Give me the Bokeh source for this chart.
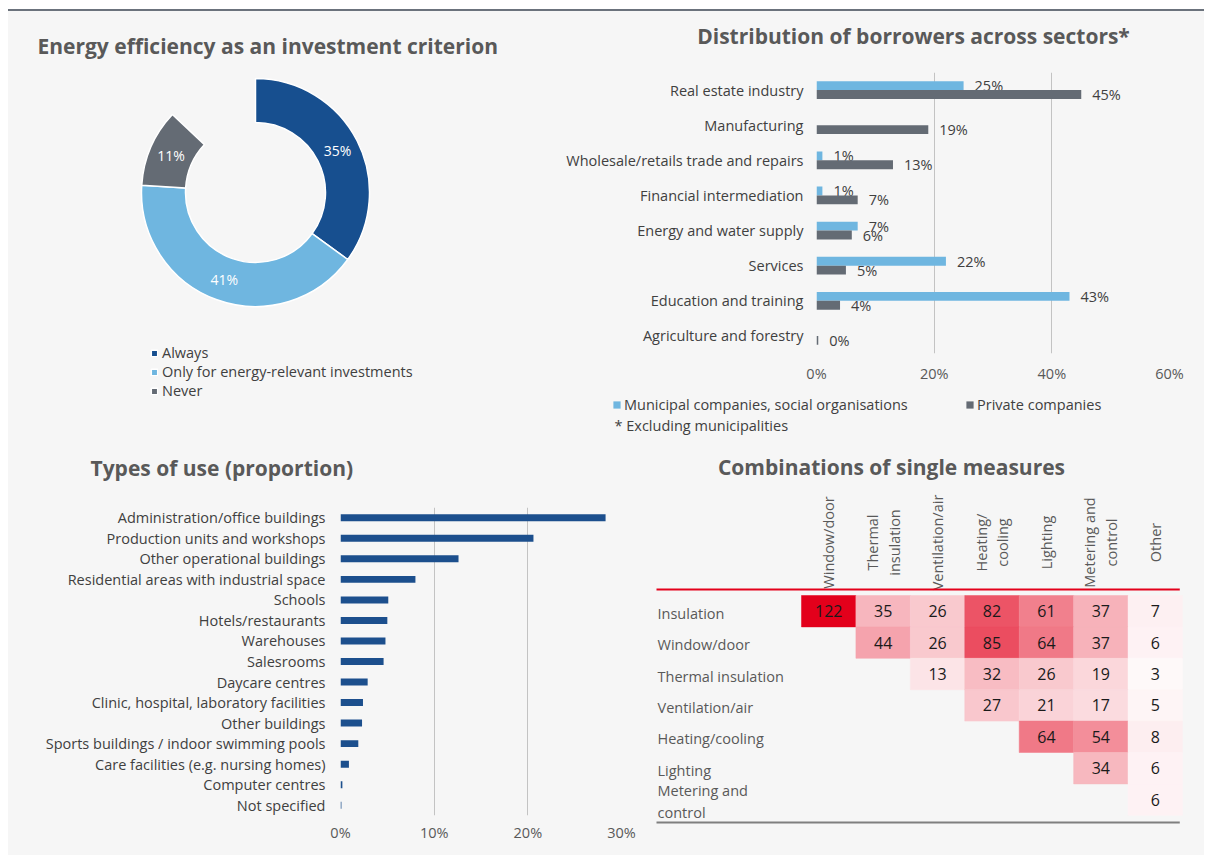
import math
import numpy as np
from bokeh.plotting import figure
from bokeh.models import (Range1d, FactorRange, ColumnDataSource, Label, Legend, LegendItem,
                          FixedTicker, Div, PrintfTickFormatter)
from bokeh.layouts import column, row
from bokeh.transform import dodge
from bokeh.embed import file_html
from bokeh.resources import INLINE
from bokeh.core.properties import value

# ---------------- data ----------------
crit_labels = ["Always", "Only for energy-relevant investments", "Never"]
crit_values = [35, 41, 11]
crit_colors = ["#174f8f", "#6fb6e0", "#646b74"]

sectors = ["Real estate industry", "Manufacturing", "Wholesale/retails trade and repairs",
           "Financial intermediation", "Energy and water supply", "Services",
           "Education and training", "Agriculture and forestry"]
municipal = [25, None, 1, 1, 7, 22, 43, None]
private = [45, 19, 13, 7, 6, 5, 4, 0.3]
sector_series = ["Municipal companies, social organisations", "Private companies"]
sector_colors = ["#6fb6e0", "#646b74"]

uses = ["Administration/office buildings", "Production units and workshops",
        "Other operational buildings", "Residential areas with industrial space", "Schools",
        "Hotels/restaurants", "Warehouses", "Salesrooms", "Daycare centres",
        "Clinic, hospital, laboratory facilities", "Other buildings",
        "Sports buildings / indoor swimming pools", "Care facilities (e.g. nursing homes)",
        "Computer centres", "Not specified"]
use_share = [28.3, 20.6, 12.6, 8.0, 5.1, 5.0, 4.8, 4.6, 2.9, 2.4, 2.3, 1.9, 0.9, 0.2, 0.1]

measure_rows = ["Insulation", "Window/door", "Thermal insulation", "Ventilation/air",
                "Heating/cooling", "Lighting", "Metering and\ncontrol"]
measure_cols = ["Window/door", "Thermal\ninsulation", "Ventilation/air", "Heating/\ncooling",
                "Lighting", "Metering and\ncontrol", "Other"]
combo = [
    [122, 35, 26, 82, 61, 37, 7],
    [None, 44, 26, 85, 64, 37, 6],
    [None, None, 13, 32, 26, 19, 3],
    [None, None, None, 27, 21, 17, 5],
    [None, None, None, None, 64, 54, 8],
    [None, None, None, None, None, 34, 6],
    [None, None, None, None, None, None, 6],
]

# ---------------- style ----------------
FONT = "Open Sans"
BG = "#f6f6f6"
TITLE_C = "#595959"
TEXT_C = "#404040"
GRID_C = "#c3c3c3"
TITLE_SIZE = "21px"
LABEL_SIZE = "14.5px"


def make_fig(width, height, x_range, y_range, left=0, right=0, top=0, bottom=0):
    p = figure(width=width, height=height, x_range=x_range, y_range=y_range,
               output_backend="svg", toolbar_location=None,
               background_fill_color=BG, border_fill_color=BG, outline_line_color=None,
               min_border=0)
    p.min_border_left = left
    p.min_border_right = right
    p.min_border_top = top
    p.min_border_bottom = bottom
    try:
        p.frame_align = False
    except Exception:
        pass
    return p


def blank_fig(width, height):
    p = make_fig(width, height, Range1d(0, width), Range1d(0, height))
    p.axis.visible = False
    p.grid.visible = False
    return p


def title_label(text, x, y, align="left"):
    return Label(x=x, y=y, text=text, text_font=FONT, text_font_style="bold",
                 text_font_size=TITLE_SIZE, text_color=TITLE_C,
                 text_align=align, text_baseline="middle")


def style_axes(p, x_standoff, y_standoff):
    for ax in (p.xaxis, p.yaxis):
        ax.axis_line_color = None
        ax.major_tick_line_color = None
        ax.minor_tick_line_color = None
        ax.major_tick_out = 0
        ax.major_tick_in = 0
        ax.minor_tick_out = 0
        ax.minor_tick_in = 0
        ax.major_label_text_font = FONT
        ax.major_label_text_font_size = LABEL_SIZE
    p.xaxis.major_label_text_color = TITLE_C
    p.yaxis.major_label_text_color = TEXT_C
    p.xaxis.major_label_standoff = x_standoff
    p.yaxis.major_label_standoff = y_standoff


# ---------------- panel 1: donut (page x 8..550, y 11..440) ----------------
W1, H1 = 542, 429
p1 = blank_fig(W1, H1)
cx, cy, r_in, r_out = 247, 248, 70, 114
cum = np.concatenate([[0], np.cumsum(crit_values)])
starts = [math.pi / 2 - 2 * math.pi * c / 100 for c in cum[:-1]]
ends = [math.pi / 2 - 2 * math.pi * c / 100 for c in cum[1:]]
mids = [(s + e) / 2 for s, e in zip(starts, ends)]
r_mid = (r_in + r_out) / 2
donut_src = ColumnDataSource(dict(
    start=starts, end=ends, color=crit_colors, label=crit_labels,
    lx=[cx + r_mid * math.cos(m) for m in mids],
    ly=[cy + r_mid * math.sin(m) for m in mids],
    txt=[f"{v}%" for v in crit_values]))
wedges = p1.annular_wedge(x=cx, y=cy, inner_radius=r_in, outer_radius=r_out,
                          start_angle="start", end_angle="end", direction="clock",
                          fill_color="color", line_color="white", line_width=1.5,
                          source=donut_src)
p1.text(x="lx", y="ly", text="txt", source=donut_src, text_color="white",
        text_font=value(FONT), text_font_size="14px", text_align="center",
        text_baseline="middle")
p1.add_layout(title_label("Energy efficiency as an investment criterion", 29, 395))
leg1 = Legend(items=[LegendItem(label=lab, renderers=[wedges], index=i)
                     for i, lab in enumerate(crit_labels)],
              location=(142, 40), orientation="vertical",
              label_text_font=FONT, label_text_font_size=LABEL_SIZE, label_text_color=TEXT_C,
              glyph_width=8, glyph_height=8, label_standoff=4, label_height=19,
              spacing=0, padding=0, margin=0, border_line_color=None,
              background_fill_alpha=0)
p1.add_layout(leg1, "center")

# ---------------- panel 2: sectors (page x 550..1204) ----------------
W2 = 654
hdr2 = blank_fig(W2, 61)                      # page y 11..72
hdr2.add_layout(title_label("Distribution of borrowers across sectors*", 363, 37,
                            align="center"))

p2 = make_fig(W2, 313, Range1d(0, 60), FactorRange(factors=list(reversed(sectors))),
              left=266, right=35, top=0, bottom=0)    # page y 72..385
off, bh = 0.127, 0.254
src_m = ColumnDataSource(dict(sector=[s for s, v in zip(sectors, municipal) if v is not None],
                              val=[v for v in municipal if v is not None]))
src_p = ColumnDataSource(dict(sector=sectors, val=private))
for src, o, c in [(src_m, off, sector_colors[0]), (src_p, -off, sector_colors[1])]:
    src.data["txt"] = [f"{round(v)}%" for v in src.data["val"]]
    p2.hbar(y=dodge("sector", o, range=p2.y_range), left=0, right="val", height=bh,
            fill_color=c, line_color=None, source=src)
    p2.text(x="val", y=dodge("sector", o, range=p2.y_range), text="txt", source=src,
            x_offset=11, text_align="left", text_baseline="middle", text_color=TEXT_C,
            text_font=value(FONT), text_font_size=LABEL_SIZE)
p2.xaxis.ticker = FixedTicker(ticks=[0, 20, 40, 60])
p2.xaxis.formatter = PrintfTickFormatter(format="%d%%")
p2.xgrid.ticker = FixedTicker(ticks=[0, 20, 40, 60])
p2.xgrid.grid_line_color = GRID_C
p2.ygrid.grid_line_color = None
style_axes(p2, 10, 13)

ftr2 = blank_fig(W2, 55)                      # page y 385..440
for name, c, lx in [(sector_series[0], sector_colors[0], 62),
                    (sector_series[1], sector_colors[1], 415)]:
    # legend swatch proxy: a single bar kept outside the visible area
    proxy = ftr2.hbar(y=[-1000], left=[0], right=[1], height=1, fill_color=c, line_color=None)
    ftr2.add_layout(Legend(items=[LegendItem(label=name, renderers=[proxy])],
                           location=(lx, 26), label_text_font=FONT,
                           label_text_font_size=LABEL_SIZE, label_text_color=TEXT_C,
                           glyph_width=9, glyph_height=9, label_standoff=3, label_height=19,
                           padding=0, margin=0, spacing=0, border_line_color=None,
                           background_fill_alpha=0), "center")
ftr2.add_layout(Label(x=64, y=15, text="* Excluding municipalities", text_font=FONT,
                      text_font_size=LABEL_SIZE, text_color=TEXT_C, text_baseline="middle"))

# ---------------- panel 3: types of use (page x 8..640, y 440..855) ----------------
W3 = 632
hdr3 = blank_fig(W3, 67)                      # page y 440..507
hdr3.add_layout(title_label("Types of use (proportion)", 82, 40))

p3 = make_fig(W3, 337, Range1d(0, 30), FactorRange(factors=list(reversed(uses))),
              left=332, right=19, top=0, bottom=0)    # page y 507..844
p3.hbar(y="use", left=0, right="share", height=0.34, fill_color="#1c4f8d", line_color=None,
        source=ColumnDataSource(dict(use=uses, share=use_share)))
p3.xaxis.ticker = FixedTicker(ticks=[0, 10, 20, 30])
p3.xaxis.formatter = PrintfTickFormatter(format="%d%%")
p3.xgrid.ticker = FixedTicker(ticks=[0, 10, 20, 30])
p3.xgrid.grid_line_color = GRID_C
p3.ygrid.grid_line_color = None
style_axes(p3, 7, 15)

# ---------------- panel 4: combinations heatmap (page x 640..1204, y 440..855) ----------------
W4, H4 = 564, 415
CW, RH = 54.43, 31.4          # cell size in px
C0X, R0Y = 188.2, 170.7       # centre of first cell, px from panel's left/top


def hx(px):
    return (px - C0X) / CW


def hy(py):
    return (py - R0Y) / RH


p4 = make_fig(W4, H4, Range1d(hx(0), hx(W4)), Range1d(hy(H4), hy(0)))
p4.axis.visible = False
p4.grid.visible = False

vmax = max(v for rr in combo for v in rr if v is not None)
red = (227, 0, 27)
xs, ys, vals, cols = [], [], [], []
for i, rr in enumerate(combo):
    for j, v in enumerate(rr):
        if v is None:
            continue
        t = v / vmax
        c = tuple(int(round(255 + t * (ch - 255))) for ch in red)
        xs.append(j); ys.append(i); vals.append(str(v)); cols.append("#%02x%02x%02x" % c)
cell_src = ColumnDataSource(dict(x=xs, y=ys, v=vals, c=cols))
p4.rect(x="x", y="y", width=1, height=1, fill_color="c", line_color="c", line_width=0.5,
        source=cell_src)
p4.text(x="x", y="y", text="v", source=cell_src, text_align="center", text_baseline="middle",
        text_color="#1a1a1a", text_font=value(FONT), text_font_size="16px")

nr, nc = len(measure_rows), len(measure_cols)
p4.text(x=[hx(17)] * nr, y=list(range(nr)), text=measure_rows, y_offset=2,
        text_align="left", text_baseline="middle", text_color=TITLE_C,
        text_font=value(FONT), text_font_size=LABEL_SIZE, text_line_height=1.2)
p4.text(x=list(range(nc)), y=[hy(102)] * nc, text=measure_cols, angle=math.pi / 2,
        text_align="center", text_baseline="middle", text_color=TITLE_C,
        text_font=value(FONT), text_font_size=LABEL_SIZE, text_line_height=1.15)
p4.segment(x0=hx(16), x1=nc - 0.5 - 0.05, y0=hy(149), y1=hy(149), line_color="#e3001b",
           line_width=2)
p4.segment(x0=hx(16), x1=nc - 0.5 - 0.05, y0=hy(382), y1=hy(382), line_color="#7f7f7f",
           line_width=2)
p4.add_layout(title_label("Combinations of single measures", hx(251), hy(26), align="center"))

# ---------------- layout ----------------
bgs = {"background-color": BG}
top_line = Div(text="", width=W1 + W2, height=2, margin=(1, 0, 0, 0),
               styles={"background-color": "#6b727c"})
p = column(top_line,
           row(p1, column(hdr2, p2, ftr2, styles=bgs), styles=bgs),
           row(column(hdr3, p3, styles=bgs), p4, styles=bgs),
           margin=(8, 0, 0, 8))

open("out.html", "w").write(file_html(p, INLINE))
